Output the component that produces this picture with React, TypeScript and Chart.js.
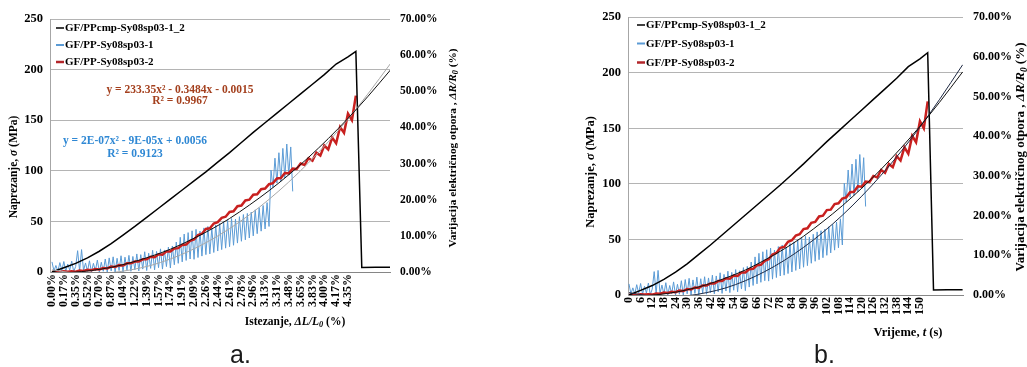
import React, { useEffect, useRef } from 'react';
import { Chart, registerables } from 'chart.js';

Chart.register(...registerables);
Chart.defaults.font.family = '"Liberation Serif", "Times New Roman", serif';

// ---------- data ----------
const TIME_LABELS = ['0','6','12','18','24','30','36','42','48','54','60','66','72','78','84','90','96','102','108','114','120','126','132','138','144','150'];
const STRAIN_LABELS = ['0.00%','0.17%','0.35%','0.52%','0.70%','0.87%','1.04%','1.22%','1.39%','1.57%','1.74%','1.91%','2.09%','2.26%','2.44%','2.61%','2.78%','2.96%','3.13%','3.31%','3.48%','3.65%','3.83%','4.00%','4.17%','4.35%'];
const SERIES_NAMES = ['GF/PPcmp-Sy08sp03-1_2', 'GF/PP-Sy08sp03-1', 'GF/PP-Sy08sp03-2'];

// stress (MPa) vs time (s)
const BLACK_T = [0,6,12,18,24,30,36,42,48,54,60,66,72,78,84,90,96,102,108,114,120,126,132,138,144,150,154,157,164,172];
const BLACK_MPA = [0,4.2,8.5,14,20.5,28,36.5,45,54,63,72,81,90,99,108.5,118,128,138,147.5,157,166.5,176,185.5,195,205.5,212.5,218,4.5,4.7,4.8];

// resistance variation (%) of specimen 1, sampled every second
const BLUE_DT = 1;
const BLUE_PCT = [
  2.8,0.3,1.8,0.2,2.6,0.4,2.9,0.2,2.2,0.5,3.0,0.1,1.5,5.9,0.3,6.2,0.4,2.5,0.2,3.1,
  0.0,2.4,0.3,3.3,0.0,2.7,0.2,3.6,0.0,3.9,0.3,4.2,0.0,3.8,0.4,4.5,0.0,4.1,0.5,4.6,
  0.2,4.3,0.6,5.0,0.3,4.8,0.8,5.6,0.4,5.2,1.0,6.0,0.6,5.7,1.2,6.4,0.8,6.1,1.5,6.9,
  1.1,7.2,2.0,8.3,2.4,9.6,2.8,10.5,3.2,10.9,3.6,11.4,3.5,11.8,4.0,11.3,4.4,12.2,4.8,12.6,
  5.0,12.1,5.4,13.0,5.8,13.4,6.2,13.9,6.6,14.3,7.0,14.8,7.4,14.6,8.0,15.3,8.5,15.9,8.9,16.2,
  9.4,16.6,10.0,17.2,10.6,17.8,11.3,18.4,11.9,19.2,12.6,28.2,23.4,31.5,24.6,33.0,25.1,34.2,26.0,35.4,
  26.8,34.6,22.3
];

// resistance variation (%) of specimen 2, sampled every 2 seconds
const RED_DT = 2;
const RED_PCT = [
  0.0,0.1,0.0,0.2,0.1,0.2,0.1,0.4,0.3,0.6,0.5,0.8,0.7,1.1,1.0,1.5,1.4,1.9,1.8,2.4,
  2.4,2.9,2.9,3.5,3.5,4.2,4.1,4.9,4.8,5.7,5.7,6.5,6.6,7.5,7.6,8.6,9.0,10.2,10.6,11.9,
  12.1,13.4,13.8,15.0,15.3,16.6,16.8,18.2,18.4,19.8,20.0,21.4,21.5,22.9,23.1,24.3,24.6,25.9,26.0,27.4,
  27.3,28.6,28.5,30.0,29.6,31.5,30.8,33.0,32.2,35.0,33.9,37.2,35.6,40.1,38.5,43.8,42.0,48.8
];

// polynomial trend lines (%)
const TREND_T = [0,10,20,30,40,50,60,70,80,90,100,110,120,130,140,150,160,172];
const TREND_RED = [-0.2,-0.1,0.4,1.3,2.6,4.3,6.3,8.8,11.6,14.8,18.5,22.5,26.9,31.7,36.9,42.5,48.5,56.2];
const TREND_BLUE = [0.6,-0.2,-0.5,-0.2,0.6,1.8,3.6,5.9,8.7,12.0,15.8,20.1,24.9,30.2,36.0,42.3,49.2,58.0];

const EQ_RED = ['y = 233.35x² - 0.3484x - 0.0015', 'R² = 0.9967'];
const EQ_BLUE = ['y = 2E-07x² - 9E-05x + 0.0056', 'R² = 0.9123'];

// ---------- helpers ----------
const SERIF = '"Liberation Serif", "Times New Roman", serif';
type Seg = { t: string; it?: boolean; sub?: boolean };

function segFont(size: number, s: Seg) {
  const sz = s.sub ? size * 0.72 : size;
  return `${s.it ? 'italic ' : ''}bold ${sz}px ${SERIF}`;
}

function drawRich(ctx: CanvasRenderingContext2D, segs: Seg[], cx: number, cy: number, size: number, rotate: boolean, color: string) {
  ctx.save();
  ctx.translate(cx, cy);
  if (rotate) ctx.rotate(-Math.PI / 2);
  let total = 0;
  const widths = segs.map((s) => {
    ctx.font = segFont(size, s);
    const w = ctx.measureText(s.t).width;
    total += w;
    return w;
  });
  let x = -total / 2;
  ctx.fillStyle = color;
  ctx.textAlign = 'left';
  ctx.textBaseline = 'alphabetic';
  const base = size * 0.34;
  segs.forEach((s, i) => {
    ctx.font = segFont(size, s);
    ctx.fillText(s.t, x, base + (s.sub ? size * 0.22 : 0));
    x += widths[i];
  });
  ctx.restore();
}

const pts = (xs: number[], ys: number[]) => xs.map((x, i) => ({ x, y: ys[i] }));
const sampled = (ys: number[], dt: number) => ys.map((y, i) => ({ x: i * dt, y }));

type PanelCfg = {
  w: number;
  left: number;
  top: number;
  bottom: number;
  leftW: number;
  rightW: number;
  xMin: number;
  xMax: number;
  tickLabels: string[];
  leftTick: number;
  rightTick: number;
  xTick: number;
  blueTrend: string;
  legend: { x: number; ys: number[]; size: number };
  titleSize: number;
  rightTitleSize: number;
  leftTitle: { x: number; y: number };
  rightTitle: { x: number; y: number };
  bottomTitle: { x: number; y: number; segs: Seg[] };
  equations: boolean;
};

const PANEL_A: PanelCfg = {
  w: 513, left: 0, top: 19, bottom: 272, leftW: 50, rightW: 123,
  xMin: -1.0, xMax: 171.3, tickLabels: STRAIN_LABELS,
  leftTick: 12.5, rightTick: 11.5, xTick: 12,
  blueTrend: '#a8a8a8',
  legend: { x: 56, ys: [28, 45, 62], size: 11 },
  titleSize: 11.5, rightTitleSize: 11.3,
  leftTitle: { x: 13, y: 167 },
  rightTitle: { x: 452, y: 148 },
  bottomTitle: { x: 295, y: 321, segs: [{ t: 'Istezanje, ' }, { t: 'ΔL/L', it: true }, { t: '0', it: true, sub: true }, { t: ' (%)' }] },
  equations: true,
};

const PANEL_B: PanelCfg = {
  w: 514, left: 513, top: 13, bottom: 295, leftW: 115, rightW: 64,
  xMin: -0.5, xMax: 172.2, tickLabels: TIME_LABELS,
  leftTick: 12.5, rightTick: 12, xTick: 12,
  blueTrend: '#1f2a44',
  legend: { x: 124, ys: [25, 43.5, 62.5], size: 11 },
  titleSize: 12.5, rightTitleSize: 13,
  leftTitle: { x: 77, y: 172 },
  rightTitle: { x: 507, y: 157 },
  bottomTitle: { x: 395, y: 332, segs: [{ t: 'Vrijeme, ' }, { t: 't', it: true }, { t: ' (s)' }] },
  equations: false,
};

function buildConfig(p: PanelCfg): any {
  const decor = {
    id: 'decor',
    afterDraw(chart: any) {
      const ctx: CanvasRenderingContext2D = chart.ctx;
      // legend
      const colors = ['#000000', '#5b9bd5', '#b3262a'];
      const widths = [1.5, 2, 2.5];
      SERIES_NAMES.forEach((name, i) => {
        const y = p.legend.ys[i];
        ctx.save();
        ctx.strokeStyle = colors[i];
        ctx.lineWidth = widths[i];
        ctx.beginPath();
        ctx.moveTo(p.legend.x, y);
        ctx.lineTo(p.legend.x + 8, y);
        ctx.stroke();
        ctx.fillStyle = '#000';
        ctx.font = `bold ${p.legend.size}px ${SERIF}`;
        ctx.textBaseline = 'middle';
        ctx.textAlign = 'left';
        ctx.fillText(name, p.legend.x + 9, y + 0.5);
        ctx.restore();
      });
      // equations
      if (p.equations) {
        drawRich(ctx, [{ t: EQ_RED[0] }], 180, 89, 11.5, false, '#a4401e');
        drawRich(ctx, [{ t: EQ_RED[1] }], 180, 100.5, 11.5, false, '#a4401e');
        drawRich(ctx, [{ t: EQ_BLUE[0] }], 135, 140, 11.5, false, '#2f88d4');
        drawRich(ctx, [{ t: EQ_BLUE[1] }], 135, 153, 11.5, false, '#2f88d4');
      }
      // axis titles
      drawRich(ctx, [{ t: 'Naprezanje, ' }, { t: 'σ', it: true }, { t: ' (MPa)' }], p.leftTitle.x, p.leftTitle.y, p.titleSize, true, '#000');
      drawRich(ctx, [{ t: 'Varijacija električnog otpora , ' }, { t: 'ΔR/R', it: true }, { t: '0', it: true, sub: true }, { t: ' (%)' }], p.rightTitle.x, p.rightTitle.y, p.rightTitleSize, true, '#000');
      drawRich(ctx, p.bottomTitle.segs, p.bottomTitle.x, p.bottomTitle.y, p.titleSize, false, '#000');
    },
  };

  const line = (extra: any) => ({ pointRadius: 0, pointHoverRadius: 0, fill: false, tension: 0, ...extra });

  return {
    type: 'line',
    data: {
      datasets: [
        line({ label: 'trend2', data: pts(TREND_T, TREND_RED), yAxisID: 'yR', borderColor: '#111111', borderWidth: 1, cubicInterpolationMode: 'monotone', order: 0 }),
        line({ label: 'trend1', data: pts(TREND_T, TREND_BLUE), yAxisID: 'yR', borderColor: p.blueTrend, borderWidth: 1, cubicInterpolationMode: 'monotone', order: 1 }),
        line({ label: SERIES_NAMES[0], data: pts(BLACK_T, BLACK_MPA), yAxisID: 'yL', borderColor: '#000000', borderWidth: 1.5, order: 2 }),
        line({ label: SERIES_NAMES[2], data: sampled(RED_PCT, RED_DT), yAxisID: 'yR', borderColor: '#c8201f', borderWidth: 2.5, order: 3 }),
        line({ label: SERIES_NAMES[1], data: sampled(BLUE_PCT, BLUE_DT), yAxisID: 'yR', borderColor: '#5b9bd5', borderWidth: 1, order: 4 }),
      ],
    },
    options: {
      responsive: false,
      animation: false,
      devicePixelRatio: 1,
      events: [],
      layout: { padding: { top: p.top, left: 0, right: 0, bottom: 0 } },
      plugins: { legend: { display: false }, tooltip: { enabled: false }, title: { display: false } },
      scales: {
        x: {
          type: 'linear',
          min: p.xMin,
          max: p.xMax,
          afterBuildTicks: (scale: any) => {
            scale.ticks = TIME_LABELS.map((l) => ({ value: Number(l) }));
          },
          afterFit: (scale: any) => { scale.height = 367 - p.bottom; },
          grid: { display: false, drawTicks: false },
          border: { display: true, color: '#868686', width: 1 },
          ticks: {
            autoSkip: false,
            minRotation: 90,
            maxRotation: 90,
            padding: 2,
            color: '#000',
            font: { size: p.xTick, weight: 'bold' },
            callback: (_v: any, i: number) => p.tickLabels[i],
          },
        },
        yL: {
          type: 'linear',
          position: 'left',
          min: 0,
          max: 250,
          afterFit: (scale: any) => { scale.width = p.leftW; },
          grid: { color: '#b4b4b4', lineWidth: 1, drawTicks: false },
          border: { display: true, color: '#a6a6a6' },
          ticks: { stepSize: 50, padding: 7, color: '#000', font: { size: p.leftTick, weight: 'bold' } },
        },
        yR: {
          type: 'linear',
          position: 'right',
          min: 0,
          max: 70,
          afterFit: (scale: any) => { scale.width = p.rightW; },
          grid: { display: false, drawTicks: false },
          border: { display: false },
          ticks: { stepSize: 10, padding: 10, color: '#000', font: { size: p.rightTick, weight: 'bold' }, callback: (v: any) => Number(v).toFixed(2) + '%' },
        },
      },
    },
    plugins: [decor],
  };
}

function Panel({ cfg }: { cfg: PanelCfg }) {
  const ref = useRef<HTMLCanvasElement>(null);
  useEffect(() => {
    const chart = new Chart(ref.current as HTMLCanvasElement, buildConfig(cfg));
    return () => chart.destroy();
  }, [cfg]);
  return (
    <canvas
      ref={ref}
      width={cfg.w}
      height={367}
      style={{ position: 'absolute', left: cfg.left, top: 0, width: cfg.w, height: 367 }}
    />
  );
}

const captionStyle: React.CSSProperties = {
  position: 'absolute',
  fontFamily: '"Liberation Sans", Arial, sans-serif',
  fontSize: 25,
  lineHeight: '25px',
  color: '#1a1a1a',
};

export default function App() {
  return (
    <div style={{ position: 'absolute', left: 0, top: 0, width: 1027, height: 367, background: '#ffffff', overflow: 'hidden' }}>
      <Panel cfg={PANEL_A} />
      <Panel cfg={PANEL_B} />
      <div style={{ ...captionStyle, left: 230, top: 342 }}>a.</div>
      <div style={{ ...captionStyle, left: 814, top: 342 }}>b.</div>
    </div>
  );
}
